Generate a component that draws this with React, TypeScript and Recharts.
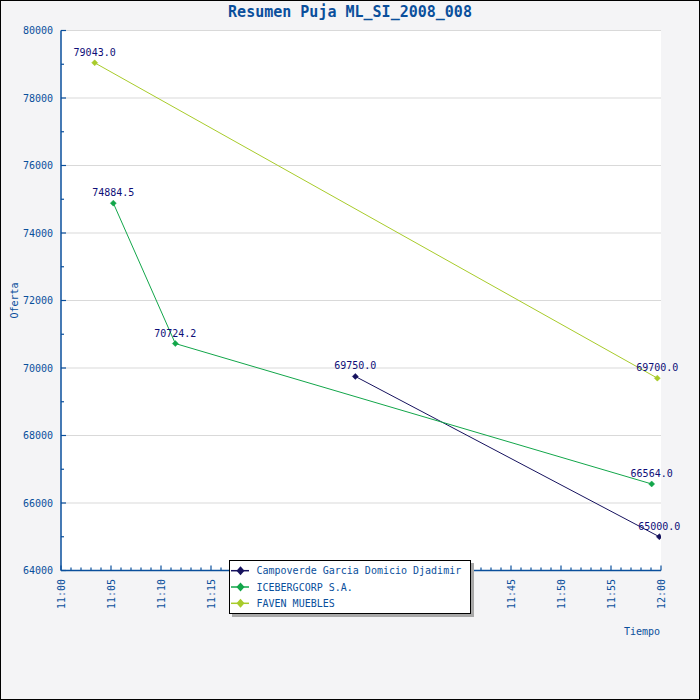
import React from "react";
import { LineChart, Line, XAxis, YAxis, ReferenceLine, ReferenceArea, LabelList } from "recharts";

const seriesNames = ["Campoverde Garcia Domicio Djadimir", "ICEBERGCORP S.A.", "FAVEN MUEBLES"];
const seriesColors = ["#16125e", "#12a64a", "#a8cb2a"];

const campoverdeTimes = ["11:29:26", "11:59:50"];
const campoverdeValues = [69750.0, 65000.0];
const icebergTimes = ["11:05:14", "11:11:26", "11:59:04"];
const icebergValues = [74884.5, 70724.2, 66564.0];
const favenTimes = ["11:03:22", "11:59:38"];
const favenValues = [79043.0, 69700.0];

const yTickValues = [64000, 65000, 66000, 67000, 68000, 69000, 70000, 71000, 72000, 73000, 74000, 75000, 76000, 77000, 78000, 79000, 80000];
const yGridValues = [66000, 68000, 70000, 72000, 74000, 76000, 78000, 80000];
const xTickLabels = ["11:00", "11:05", "11:10", "11:15", "11:20", "11:25", "11:30", "11:35", "11:40", "11:45", "11:50", "11:55", "12:00"];

const title = "Resumen Puja ML_SI_2008_008";
const yTitle = "Oferta";
const xTitle = "Tiempo";

const AXIS = "#0a4f9c";
const LABEL = "#0e0e78";
const FONT = "'DejaVu Sans Mono', monospace";

const toMinutes = (s: string) => {
  const [h, m, sec] = s.split(":").map(Number);
  return h * 60 + m + sec / 60 - 660;
};

const build = (times: string[], values: number[]) => times.map((t, i) => ({ t: toMinutes(t), v: values[i] }));

const seriesData = [
  build(campoverdeTimes, campoverdeValues),
  build(icebergTimes, icebergValues),
  build(favenTimes, favenValues),
];

const xTicks = Array.from({ length: 61 }, (_, i) => i);

const YTick = (props: any) => {
  const { x, y, payload } = props;
  const major = payload.value % 2000 === 0;
  return (
    <g>
      <line x1={x} x2={x + (major ? 5 : 3)} y1={y} y2={y} stroke={AXIS} strokeWidth={1.2} />
      {major && (
        <text x={x - 8} y={y} textAnchor="end" dominantBaseline="central" fontSize={10} fontFamily={FONT} fill={AXIS}>
          {payload.value}
        </text>
      )}
    </g>
  );
};

const XTick = (props: any) => {
  const { x, y, payload } = props;
  const major = payload.value % 5 === 0;
  const ty = y + 8.5;
  return (
    <g>
      <line x1={x} x2={x} y1={y} y2={y - (major ? 5 : 3)} stroke={AXIS} strokeWidth={1.2} />
      {major && (
        <text
          x={x}
          y={ty}
          transform={`rotate(-90, ${x}, ${ty})`}
          textAnchor="end"
          dominantBaseline="central"
          fontSize={10}
          fontFamily={FONT}
          fill={AXIS}
        >
          {xTickLabels[payload.value / 5]}
        </text>
      )}
    </g>
  );
};

const makeDot = (color: string) => (p: any) => {
  const { cx, cy, index } = p;
  if (cx == null || cy == null) return <g key={`d${index}`} />;
  const r = 3;
  return (
    <polygon
      key={`d${index}`}
      points={`${cx},${cy - r} ${cx + r},${cy} ${cx},${cy + r} ${cx - r},${cy}`}
      fill={color}
      stroke={color}
      strokeWidth={0.5}
    />
  );
};

const ValueLabel = (props: any) => {
  const { x, y, value } = props;
  if (x == null || y == null) return null;
  return (
    <text x={x} y={y - 7} textAnchor="middle" fontSize={10} fontFamily={FONT} fill={LABEL}>
      {Number(value).toFixed(1)}
    </text>
  );
};

const Legend = () => (
  <div
    style={{
      position: "absolute",
      left: 229,
      top: 560,
      width: 242,
      height: 54,
      boxSizing: "border-box",
      background: "#fff",
      border: "1px solid #000",
      boxShadow: "3px 3px 0 #a8a8a8",
    }}
  >
    <svg width={240} height={52} style={{ display: "block" }}>
      {seriesNames.map((n, i) => {
        const cy = 9.7 + i * 16.3;
        const cx = 10.5;
        return (
          <g key={n}>
            <line x1={1} x2={19} y1={cy} y2={cy} stroke={seriesColors[i]} strokeWidth={1.5} />
            <polygon points={`${cx},${cy - 4.5} ${cx + 4},${cy} ${cx},${cy + 4.5} ${cx - 4},${cy}`} fill={seriesColors[i]} />
            <text x={26.5} y={cy} dominantBaseline="central" fontSize={10} fontFamily={FONT} fill={AXIS}>
              {n}
            </text>
          </g>
        );
      })}
    </svg>
  </div>
);

export default function App() {
  return (
    <div style={{ position: "absolute", left: 0, top: 0, width: 700, height: 700, background: "#f4f4f6", overflow: "hidden" }}>
      <LineChart width={700} height={700} margin={{ top: 30.5, right: 39, bottom: 89.5, left: 0 }}>
        <XAxis
          type="number"
          dataKey="t"
          domain={[0, 60]}
          ticks={xTicks}
          interval={0}
          allowDataOverflow
          height={40}
          tickSize={0}
          tickMargin={0}
          tickLine={false}
          tick={<XTick />}
          axisLine={{ stroke: AXIS, strokeWidth: 1.5 }}
          label={(p: any) => {
            const vb = p.viewBox || { x: 61, y: 570.5, width: 600 };
            return (
              <text x={vb.x + vb.width - 1} y={vb.y + 60.5} textAnchor="end" dominantBaseline="central" fontSize={10} fontFamily={FONT} fill={AXIS}>
                {xTitle}
              </text>
            );
          }}
        />
        <YAxis
          type="number"
          dataKey="v"
          domain={[64000, 80000]}
          ticks={yTickValues}
          interval={0}
          allowDataOverflow
          width={61}
          tickSize={0}
          tickMargin={0}
          tickLine={false}
          tick={<YTick />}
          axisLine={{ stroke: AXIS, strokeWidth: 1.5 }}
          label={(p: any) => {
            const vb = p.viewBox || { x: 0, y: 30.5, height: 540 };
            const cx = vb.x + 14.5;
            const cy = vb.y + vb.height / 2;
            return (
              <text x={cx} y={cy} transform={`rotate(-90, ${cx}, ${cy})`} textAnchor="middle" dominantBaseline="central" fontSize={10} fontFamily={FONT} fill={AXIS}>
                {yTitle}
              </text>
            );
          }}
        />
        <ReferenceArea x1={0} x2={60} y1={64000} y2={80000} fill="#ffffff" fillOpacity={1} stroke="none" />
        {yGridValues.map((g) => (
          <ReferenceLine key={g} y={g} stroke="#d9d9d9" strokeWidth={1} />
        ))}
        {seriesData.map((d, i) => (
          <Line
            key={seriesNames[i]}
            data={d}
            dataKey="v"
            name={seriesNames[i]}
            type="linear"
            stroke={seriesColors[i]}
            strokeWidth={1}
            dot={makeDot(seriesColors[i])}
            activeDot={false}
            isAnimationActive={false}
          >
            <LabelList dataKey="v" content={<ValueLabel />} />
          </Line>
        ))}
      </LineChart>
      <svg width={700} height={30} style={{ position: "absolute", left: 0, top: 0 }}>
        <text x={350} y={17} textAnchor="middle" fontSize={15} fontWeight="bold" fontFamily={FONT} fill={AXIS}>
          {title}
        </text>
      </svg>
      <Legend />
      <div style={{ position: "absolute", left: 0, top: 0, width: 700, height: 700, boxSizing: "border-box", border: "1px solid #000", pointerEvents: "none" }} />
    </div>
  );
}
